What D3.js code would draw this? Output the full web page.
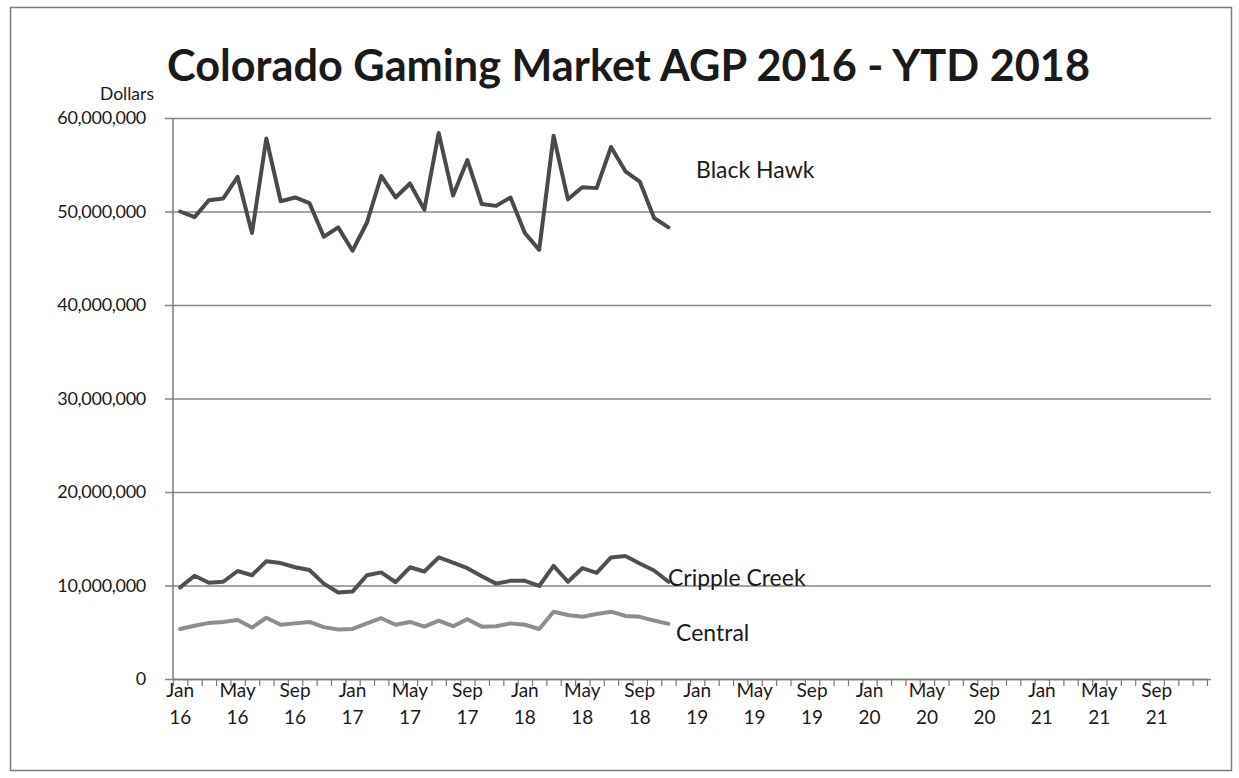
<!DOCTYPE html>
<html>
<head>
<meta charset="utf-8">
<script src="https://cdn.jsdelivr.net/npm/d3@7"></script>
<style>
  html, body { margin: 0; padding: 0; background: #fff; }
  svg { display: block; }
  text { font-family: Lato, "Open Sans", sans-serif; fill: #1a1a1a; }
</style>
</head>
<body>
<svg id="chart" width="1239" height="778"></svg>
<script>
// ---- data (dollars), monthly Jan 2016 .. Nov 2018 ----
const blackHawk = [50.0, 49.4, 51.2, 51.4, 53.7, 47.7, 57.8, 51.1, 51.5, 50.9, 47.3, 48.3,
  45.8, 48.8, 53.8, 51.5, 53.0, 50.2, 58.4, 51.7, 55.5, 50.8, 50.6, 51.5,
  47.7, 45.9, 58.1, 51.3, 52.6, 52.5, 56.9, 54.3, 53.2, 49.3, 48.3].map(v => v * 1e6);
const crippleCreek = [9.8, 11.05, 10.3, 10.4, 11.55, 11.1, 12.6, 12.4, 11.95, 11.65, 10.2, 9.25,
  9.35, 11.1, 11.4, 10.35, 11.95, 11.5, 13.0, 12.45, 11.85, 11.0, 10.2, 10.5,
  10.5, 9.95, 12.1, 10.4, 11.85, 11.35, 13.0, 13.15, 12.35, 11.6, 10.4].map(v => v * 1e6);
const central = [5.35, 5.7, 6.0, 6.1, 6.3, 5.5, 6.55, 5.8, 5.95, 6.1, 5.55, 5.3,
  5.35, 5.95, 6.5, 5.8, 6.1, 5.6, 6.25, 5.65, 6.4, 5.6, 5.65, 5.95,
  5.8, 5.35, 7.2, 6.85, 6.65, 6.95, 7.2, 6.75, 6.65, 6.25, 5.9].map(v => v * 1e6);

const seriesNames = ["Black Hawk", "Cripple Creek", "Central"];
const yTicks = [0, 10e6, 20e6, 30e6, 40e6, 50e6, 60e6];
const monthCount = 72; // Jan 16 .. Dec 21 categories
const xTickMonths = ["Jan", "May", "Sep", "Jan", "May", "Sep", "Jan", "May", "Sep",
  "Jan", "May", "Sep", "Jan", "May", "Sep", "Jan", "May", "Sep"];
const xTickYears = ["16", "16", "16", "17", "17", "17", "18", "18", "18",
  "19", "19", "19", "20", "20", "20", "21", "21", "21"];
const titleText = "Colorado Gaming Market AGP 2016 - YTD 2018";

// ---- layout ----
const svg = d3.select("#chart");
const plotLeft = 173, plotRight = 1207, plotTop = 118, plotBottom = 679, gridRight = 1211;

const x = d3.scaleLinear().domain([0, monthCount]).range([plotLeft, plotRight]);
const y = d3.scaleLinear().domain([0, 60e6]).range([plotBottom, plotTop]);

// outer frame
svg.append("rect").attr("x", 10.5).attr("y", 7.5).attr("width", 1221).attr("height", 763)
  .attr("fill", "none").attr("stroke", "#7a7a7a").attr("stroke-width", 1.5);

// y gridlines + labels
const yAxis = svg.append("g").attr("transform", `translate(165,0)`)
  .call(d3.axisLeft(y).tickValues(yTicks).tickFormat(d3.format(","))
    .tickSize(-(gridRight - 165)).tickPadding(19));
yAxis.select(".domain").remove();
yAxis.selectAll(".tick line").attr("stroke", "#878787").attr("stroke-width", 1.5);
yAxis.selectAll(".tick text").style("font-size", "18px").style("letter-spacing", "-0.3px")
  .style("font-family", "Lato, sans-serif").attr("fill", "#1a1a1a");

// y axis line
svg.append("line").attr("x1", plotLeft).attr("x2", plotLeft).attr("y1", plotTop).attr("y2", plotBottom)
  .attr("stroke", "#7a7a7a").attr("stroke-width", 1.5);

// x axis with monthly ticks
const xAxis = svg.append("g").attr("transform", `translate(0,${plotBottom})`)
  .call(d3.axisBottom(x).tickValues(d3.range(0, monthCount + 1)).tickFormat("").tickSize(7).tickSizeOuter(0));
xAxis.select(".domain").attr("stroke", "#7a7a7a").attr("stroke-width", 1.5);
xAxis.selectAll(".tick line").attr("stroke", "#7a7a7a").attr("stroke-width", 1.2);

// x labels every 4 months
const xl = svg.append("g");
xTickMonths.forEach((m, i) => {
  const idx = i * 4;
  const t = xl.append("text").attr("text-anchor", "middle")
    .attr("x", x(idx + 0.5)).attr("y", 697).style("font-size", "19px");
  t.append("tspan").attr("x", x(idx + 0.5)).attr("dy", 0).text(m);
  t.append("tspan").attr("x", x(idx + 0.5)).attr("dy", 27).text(xTickYears[i]);
});

// lines
const line = d3.line().x((d, i) => x(i + 0.5)).y(d => y(d));
const seriesData = [
  { name: seriesNames[0], values: blackHawk, color: "#4a4a4a" },
  { name: seriesNames[1], values: crippleCreek, color: "#505050" },
  { name: seriesNames[2], values: central, color: "#8e8e8e" }
];
svg.append("g").selectAll("path").data(seriesData).join("path")
  .attr("d", d => line(d.values)).attr("fill", "none")
  .attr("stroke", d => d.color).attr("stroke-width", 4)
  .attr("stroke-linejoin", "round").attr("stroke-linecap", "round");

// series labels
const labelPos = [
  { x: 696, y: 178 },
  { x: 668, y: 586 },
  { x: 676, y: 641 }
];
seriesData.forEach((s, i) => {
  svg.append("text").attr("x", labelPos[i].x).attr("y", labelPos[i].y)
    .style("font-size", "23px").text(s.name);
});

// title
const title = svg.append("text").attr("x", 167).attr("y", 81)
  .style("font-size", "40px").style("font-weight", "bold").text(titleText);
const w = title.node().getComputedTextLength();
title.style("font-size", (40 * 923 / w) + "px");

// y axis title
svg.append("text").attr("x", 100).attr("y", 100).style("font-size", "17.5px").text("Dollars");
</script>
</body>
</html>
